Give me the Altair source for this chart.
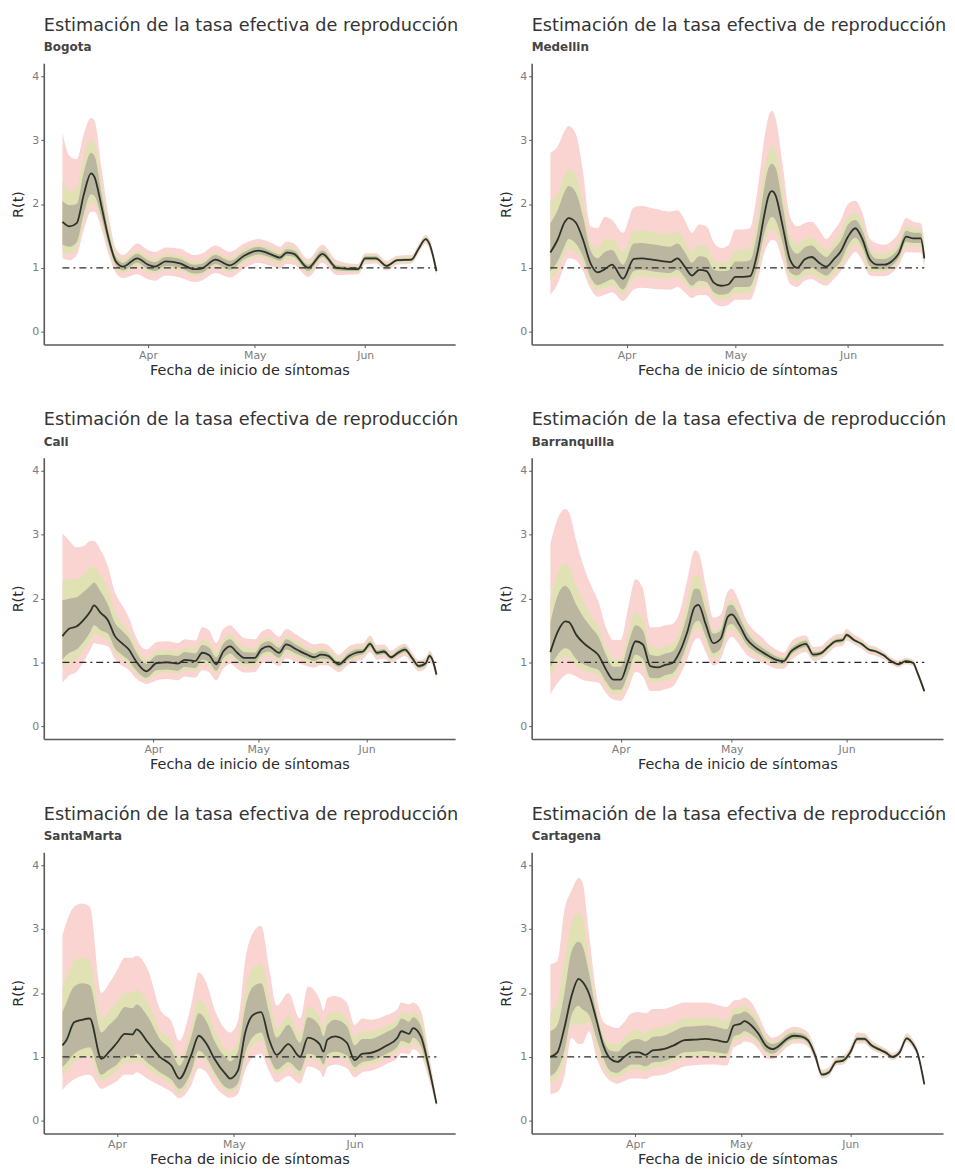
import altair as alt
import pandas as pd

TITLE = "Estimación de la tasa efectiva de reproducción"
X_TITLE = "Fecha de inicio de síntomas"
Y_TITLE = "R(t)"
YEAR = 2020
MONTH_TICKS = [(4, 1), (5, 1), (6, 1)]
Y_TICKS = [0, 1, 2, 3, 4]

# ---------------- Bogota ----------------
BOG_DATES = ["03-08","03-10","03-12","03-14","03-16","03-17","03-19","03-21","03-23","03-25","03-29","04-01","04-03","04-06","04-10","04-14","04-16","04-20","04-24","04-28","05-02","05-06","05-08","05-10","05-12","05-16","05-20","05-24","05-30","06-01","06-04","06-07","06-10","06-14","06-16","06-18","06-19","06-21"]
BOG_MED = [1.72,1.65,1.70,2.15,2.48,2.42,1.95,1.45,1.10,1.02,1.15,1.05,1.02,1.10,1.07,0.98,0.99,1.13,1.04,1.19,1.27,1.20,1.16,1.24,1.22,1.00,1.22,1.00,0.98,1.15,1.15,1.03,1.12,1.13,1.30,1.45,1.38,0.95]
BOG_LO95 = [1.15,1.12,1.20,1.60,1.88,1.88,1.60,1.20,0.92,0.84,0.90,0.82,0.80,0.88,0.85,0.78,0.80,0.92,0.85,0.99,1.08,1.02,0.99,1.06,1.05,0.86,1.08,0.89,0.90,1.06,1.07,0.96,1.05,1.07,1.23,1.38,1.30,0.88]
BOG_HI95 = [3.12,2.75,2.70,3.10,3.35,3.30,2.55,1.80,1.30,1.20,1.38,1.28,1.25,1.32,1.30,1.20,1.22,1.35,1.25,1.38,1.45,1.38,1.33,1.41,1.38,1.14,1.36,1.12,1.06,1.23,1.23,1.11,1.19,1.20,1.37,1.52,1.46,1.02]
BOG_LO75 = [1.25,1.22,1.30,1.75,2.02,2.00,1.70,1.30,1.00,0.92,1.03,0.93,0.91,0.98,0.96,0.87,0.88,1.02,0.93,1.08,1.17,1.10,1.06,1.14,1.12,0.92,1.14,0.94,0.93,1.10,1.10,0.99,1.08,1.09,1.26,1.41,1.34,0.91]
BOG_HI75 = [2.35,2.20,2.25,2.75,3.00,2.95,2.30,1.65,1.22,1.13,1.27,1.17,1.14,1.22,1.19,1.09,1.10,1.24,1.15,1.30,1.37,1.30,1.26,1.34,1.32,1.08,1.30,1.06,1.03,1.20,1.20,1.07,1.16,1.17,1.34,1.49,1.42,0.99]
BOG_LO50 = [1.36,1.33,1.40,1.85,2.15,2.12,1.78,1.35,1.04,0.96,1.08,0.98,0.95,1.03,1.00,0.91,0.92,1.06,0.97,1.13,1.21,1.15,1.11,1.19,1.17,0.95,1.17,0.96,0.95,1.12,1.12,1.01,1.10,1.11,1.28,1.43,1.36,0.93]
BOG_HI50 = [2.05,1.98,2.00,2.50,2.80,2.75,2.15,1.55,1.17,1.08,1.22,1.12,1.09,1.17,1.14,1.05,1.06,1.20,1.11,1.25,1.33,1.25,1.21,1.29,1.27,1.05,1.27,1.04,1.01,1.18,1.18,1.05,1.14,1.15,1.32,1.47,1.40,0.97]

# ---------------- Medellin ----------------
MED_DATES = ["03-11","03-13","03-15","03-16","03-18","03-20","03-22","03-24","03-26","03-28","03-31","04-03","04-05","04-09","04-13","04-15","04-17","04-19","04-21","04-23","04-25","04-27","04-29","05-01","05-03","05-05","05-07","05-09","05-10","05-11","05-12","05-14","05-16","05-18","05-20","05-22","05-24","05-26","05-28","05-30","06-01","06-03","06-05","06-07","06-09","06-11","06-13","06-15","06-17","06-19","06-21","06-22"]
MED_MED = [1.24,1.44,1.72,1.78,1.71,1.44,1.08,0.93,0.98,1.05,0.83,1.14,1.15,1.12,1.09,1.15,1.02,0.88,0.97,0.95,0.77,0.72,0.74,0.86,0.86,0.87,1.23,1.85,2.11,2.20,2.14,1.65,1.13,1.00,1.13,1.17,1.08,1.02,1.13,1.26,1.49,1.62,1.44,1.13,1.05,1.05,1.10,1.23,1.49,1.46,1.46,1.15]
MED_LO95 = [0.58,0.75,1.05,1.15,1.12,0.95,0.68,0.55,0.58,0.62,0.48,0.66,0.69,0.67,0.66,0.70,0.62,0.53,0.58,0.57,0.45,0.40,0.42,0.50,0.50,0.50,0.78,1.25,1.38,1.44,1.42,1.10,0.75,0.70,0.80,0.82,0.76,0.72,0.82,0.95,1.12,1.25,1.10,0.88,0.87,0.87,0.92,1.05,1.25,1.24,1.24,0.98]
MED_HI95 = [2.80,2.90,3.15,3.22,3.10,2.50,1.65,1.62,1.80,1.75,1.55,1.95,1.97,1.92,1.88,1.90,1.75,1.55,1.68,1.65,1.40,1.31,1.35,1.60,1.60,1.62,2.20,3.05,3.35,3.46,3.35,2.60,1.80,1.65,1.70,1.72,1.60,1.45,1.58,1.75,2.00,2.05,1.85,1.45,1.38,1.36,1.42,1.55,1.78,1.72,1.70,1.40]
MED_LO75 = [0.80,0.95,1.22,1.30,1.25,1.08,0.78,0.65,0.68,0.72,0.58,0.84,0.87,0.85,0.83,0.87,0.77,0.65,0.72,0.70,0.55,0.50,0.52,0.60,0.60,0.61,0.92,1.42,1.55,1.60,1.57,1.25,0.85,0.80,0.88,0.90,0.84,0.80,0.90,1.02,1.23,1.38,1.22,0.94,0.94,0.94,0.99,1.12,1.35,1.33,1.33,1.05]
MED_HI75 = [2.05,2.15,2.45,2.55,2.45,2.00,1.40,1.30,1.45,1.45,1.25,1.58,1.59,1.55,1.52,1.57,1.42,1.25,1.36,1.34,1.12,1.08,1.10,1.28,1.28,1.30,1.80,2.55,2.80,2.89,2.82,2.20,1.50,1.38,1.45,1.48,1.36,1.28,1.40,1.55,1.80,1.85,1.68,1.32,1.22,1.22,1.27,1.40,1.65,1.62,1.61,1.28]
MED_LO50 = [0.95,1.10,1.35,1.45,1.38,1.18,0.86,0.73,0.77,0.82,0.66,0.95,0.97,0.94,0.92,0.97,0.85,0.72,0.80,0.78,0.62,0.58,0.60,0.70,0.70,0.71,1.02,1.55,1.72,1.80,1.75,1.38,0.93,0.88,0.97,1.00,0.93,0.88,0.98,1.10,1.35,1.47,1.31,1.03,0.98,0.98,1.03,1.16,1.41,1.39,1.39,1.09]
MED_HI50 = [1.70,1.90,2.20,2.28,2.18,1.80,1.28,1.15,1.25,1.28,1.05,1.38,1.39,1.36,1.33,1.38,1.25,1.08,1.18,1.16,0.97,0.95,0.96,1.10,1.10,1.12,1.55,2.28,2.55,2.63,2.57,1.98,1.35,1.22,1.32,1.35,1.25,1.17,1.29,1.43,1.68,1.75,1.58,1.25,1.14,1.14,1.19,1.32,1.58,1.55,1.55,1.23]

# ---------------- Cali ----------------
CAL_DATES = ["03-06","03-08","03-10","03-12","03-14","03-15","03-17","03-19","03-21","03-23","03-25","03-27","03-29","03-30","04-02","04-05","04-08","04-10","04-13","04-15","04-17","04-19","04-21","04-23","04-25","04-27","04-30","05-02","05-04","05-07","05-09","05-12","05-15","05-17","05-19","05-21","05-24","05-27","05-29","05-31","06-02","06-04","06-06","06-08","06-10","06-12","06-14","06-16","06-18","06-19","06-20","06-21"]
CAL_MED = [1.41,1.53,1.56,1.66,1.80,1.89,1.77,1.66,1.41,1.30,1.20,1.02,0.89,0.86,0.99,1.00,0.98,1.04,1.02,1.15,1.11,0.97,1.17,1.25,1.15,1.07,1.07,1.21,1.25,1.15,1.28,1.20,1.12,1.08,1.12,1.10,0.97,1.10,1.15,1.17,1.29,1.15,1.17,1.08,1.15,1.20,1.07,0.94,0.99,1.10,1.02,0.81]
CAL_LO95 = [0.68,0.80,0.85,1.00,1.20,1.30,1.28,1.25,1.05,0.95,0.88,0.75,0.68,0.66,0.72,0.74,0.72,0.78,0.76,0.88,0.84,0.72,0.90,0.98,0.90,0.84,0.85,0.98,1.02,0.94,1.06,1.00,0.94,0.92,0.96,0.95,0.85,0.97,1.02,1.05,1.16,1.04,1.06,0.99,1.05,1.10,0.98,0.86,0.91,1.01,0.94,0.74]
CAL_HI95 = [3.02,2.90,2.80,2.82,2.90,2.90,2.75,2.50,2.10,1.90,1.70,1.40,1.22,1.20,1.32,1.33,1.30,1.36,1.34,1.55,1.50,1.30,1.52,1.58,1.48,1.38,1.36,1.48,1.52,1.40,1.52,1.43,1.33,1.28,1.30,1.27,1.12,1.25,1.29,1.30,1.42,1.27,1.28,1.18,1.25,1.29,1.16,1.03,1.08,1.18,1.10,0.88]
CAL_LO75 = [0.92,1.00,1.05,1.18,1.35,1.45,1.40,1.35,1.15,1.05,0.96,0.83,0.74,0.72,0.82,0.84,0.82,0.88,0.86,0.98,0.94,0.82,1.00,1.08,0.99,0.93,0.94,1.07,1.11,1.02,1.14,1.08,1.01,0.98,1.02,1.01,0.90,1.02,1.07,1.10,1.21,1.09,1.11,1.03,1.09,1.14,1.02,0.89,0.94,1.05,0.97,0.77]
CAL_HI75 = [2.28,2.30,2.30,2.38,2.48,2.50,2.35,2.15,1.80,1.62,1.48,1.25,1.08,1.05,1.18,1.19,1.17,1.23,1.21,1.35,1.31,1.15,1.36,1.44,1.33,1.24,1.22,1.35,1.39,1.28,1.41,1.33,1.24,1.19,1.22,1.20,1.06,1.19,1.23,1.25,1.37,1.22,1.23,1.13,1.21,1.26,1.12,0.99,1.04,1.15,1.07,0.85]
CAL_LO50 = [1.05,1.15,1.20,1.32,1.48,1.58,1.50,1.45,1.22,1.12,1.03,0.88,0.78,0.76,0.88,0.89,0.87,0.93,0.91,1.04,1.00,0.87,1.06,1.14,1.05,0.98,0.99,1.13,1.17,1.07,1.20,1.13,1.06,1.02,1.06,1.05,0.93,1.05,1.10,1.13,1.24,1.11,1.13,1.05,1.11,1.16,1.04,0.91,0.96,1.07,0.99,0.79]
CAL_HI50 = [1.97,2.00,2.02,2.10,2.20,2.25,2.10,1.90,1.62,1.50,1.38,1.17,1.01,0.98,1.11,1.12,1.10,1.16,1.14,1.27,1.23,1.08,1.29,1.36,1.25,1.16,1.15,1.29,1.33,1.23,1.36,1.27,1.18,1.14,1.18,1.15,1.01,1.15,1.20,1.21,1.33,1.19,1.21,1.11,1.19,1.24,1.10,0.97,1.02,1.13,1.05,0.83]

# ---------------- Barranquilla ----------------
BAR_DATES = ["03-13","03-15","03-17","03-18","03-20","03-22","03-24","03-26","03-28","03-30","04-01","04-03","04-05","04-07","04-09","04-11","04-13","04-15","04-17","04-19","04-21","04-22","04-24","04-26","04-28","04-30","05-01","05-03","05-05","05-07","05-09","05-11","05-13","05-15","05-17","05-19","05-21","05-23","05-25","05-27","05-29","05-31","06-01","06-03","06-05","06-07","06-09","06-11","06-13","06-15","06-17","06-19","06-20","06-22"]
BAR_MED = [1.16,1.48,1.64,1.63,1.43,1.30,1.21,1.11,0.89,0.73,0.73,1.02,1.33,1.28,0.94,0.92,0.96,0.99,1.17,1.48,1.87,1.90,1.59,1.30,1.37,1.72,1.75,1.59,1.37,1.25,1.17,1.10,1.04,1.02,1.17,1.25,1.29,1.12,1.14,1.24,1.33,1.35,1.43,1.35,1.29,1.20,1.17,1.11,1.02,0.97,1.02,0.99,0.86,0.55]
BAR_LO95 = [0.50,0.68,0.80,0.82,0.78,0.72,0.70,0.68,0.52,0.42,0.40,0.58,0.85,0.78,0.55,0.55,0.58,0.62,0.80,1.05,1.35,1.38,1.15,0.95,1.05,1.35,1.40,1.28,1.12,1.05,1.00,0.95,0.90,0.90,1.03,1.12,1.16,1.02,1.05,1.14,1.24,1.26,1.34,1.28,1.22,1.13,1.10,1.05,0.97,0.92,0.97,0.94,0.81,0.50]
BAR_HI95 = [2.85,3.25,3.40,3.35,2.90,2.50,2.20,1.95,1.55,1.35,1.35,1.85,2.30,2.15,1.55,1.55,1.58,1.60,1.80,2.30,2.75,2.72,2.20,1.70,1.75,2.12,2.15,1.95,1.65,1.50,1.40,1.28,1.20,1.15,1.32,1.40,1.42,1.24,1.25,1.35,1.43,1.45,1.52,1.43,1.37,1.27,1.24,1.17,1.08,1.03,1.07,1.04,0.91,0.60]
BAR_LO75 = [0.78,1.00,1.08,1.07,0.95,0.88,0.84,0.80,0.62,0.50,0.50,0.72,1.02,0.95,0.68,0.68,0.72,0.75,0.92,1.22,1.52,1.55,1.30,1.05,1.15,1.50,1.52,1.40,1.22,1.13,1.07,1.01,0.96,0.95,1.09,1.17,1.21,1.06,1.09,1.18,1.28,1.30,1.38,1.31,1.25,1.16,1.13,1.08,0.99,0.94,0.99,0.96,0.83,0.52]
BAR_HI75 = [2.00,2.40,2.55,2.50,2.20,1.95,1.72,1.55,1.22,1.05,1.05,1.45,1.78,1.68,1.25,1.22,1.26,1.30,1.50,1.95,2.35,2.35,1.95,1.50,1.58,1.95,1.98,1.80,1.55,1.38,1.28,1.20,1.12,1.09,1.25,1.33,1.37,1.18,1.19,1.30,1.38,1.40,1.48,1.39,1.33,1.24,1.21,1.14,1.05,1.00,1.05,1.02,0.89,0.58]
BAR_LO50 = [0.92,1.12,1.22,1.20,1.05,0.97,0.92,0.88,0.70,0.57,0.57,0.82,1.12,1.05,0.76,0.75,0.80,0.83,1.00,1.30,1.62,1.65,1.40,1.14,1.22,1.58,1.60,1.47,1.28,1.18,1.11,1.05,0.99,0.98,1.12,1.20,1.24,1.08,1.11,1.21,1.30,1.32,1.40,1.33,1.27,1.18,1.15,1.09,1.00,0.95,1.00,0.97,0.84,0.53]
BAR_HI50 = [1.62,2.05,2.20,2.15,1.90,1.70,1.55,1.40,1.12,0.93,0.93,1.28,1.58,1.50,1.12,1.10,1.14,1.17,1.37,1.75,2.15,2.15,1.80,1.45,1.50,1.88,1.90,1.72,1.48,1.33,1.24,1.16,1.09,1.06,1.22,1.30,1.34,1.16,1.17,1.27,1.36,1.38,1.46,1.37,1.31,1.22,1.19,1.13,1.04,0.99,1.04,1.01,0.88,0.57]

# ---------------- SantaMarta ----------------
SMA_DATES = ["03-18","03-19","03-21","03-23","03-25","03-28","03-30","04-01","04-03","04-05","04-06","04-09","04-12","04-15","04-17","04-20","04-22","04-24","04-26","04-29","04-30","05-02","05-04","05-06","05-08","05-10","05-12","05-15","05-18","05-20","05-23","05-24","05-25","05-27","05-30","06-01","06-03","06-05","06-07","06-09","06-12","06-13","06-15","06-16","06-18","06-20","06-22"]
SMA_MED = [1.18,1.26,1.54,1.58,1.60,0.97,1.08,1.22,1.36,1.35,1.43,1.22,1.00,0.86,0.66,1.02,1.33,1.20,0.97,0.72,0.66,0.78,1.40,1.66,1.70,1.28,1.03,1.20,1.00,1.30,1.20,1.08,1.27,1.32,1.22,0.95,1.05,1.06,1.10,1.17,1.30,1.40,1.36,1.45,1.32,0.85,0.27]
SMA_LO95 = [0.48,0.55,0.65,0.70,0.72,0.50,0.55,0.62,0.72,0.72,0.76,0.65,0.55,0.45,0.35,0.55,0.82,0.75,0.55,0.38,0.36,0.42,0.80,1.00,1.05,0.78,0.60,0.70,0.58,0.85,0.78,0.68,0.84,0.88,0.82,0.68,0.76,0.78,0.82,0.88,0.98,1.06,1.04,1.12,1.02,0.66,0.22]
SMA_HI95 = [2.90,3.10,3.35,3.40,3.35,2.00,2.15,2.35,2.55,2.55,2.58,2.35,1.75,1.55,1.25,1.80,2.32,2.15,1.75,1.42,1.38,1.55,2.55,2.95,3.05,2.40,1.80,2.00,1.60,2.10,1.90,1.72,1.92,1.95,1.85,1.50,1.60,1.58,1.60,1.65,1.75,1.85,1.82,1.85,1.72,1.08,0.33]
SMA_LO75 = [0.71,0.78,0.92,0.98,1.00,0.62,0.70,0.78,0.90,0.90,0.95,0.80,0.68,0.57,0.42,0.68,1.00,0.90,0.68,0.47,0.45,0.52,0.98,1.20,1.25,0.95,0.72,0.85,0.70,0.98,0.92,0.80,0.97,1.00,0.95,0.78,0.86,0.88,0.92,0.98,1.09,1.17,1.14,1.22,1.10,0.72,0.24]
SMA_HI75 = [2.10,2.25,2.50,2.55,2.50,1.60,1.72,1.85,2.00,2.00,2.05,1.85,1.42,1.25,0.98,1.45,1.90,1.75,1.42,1.12,1.08,1.25,2.05,2.40,2.45,1.95,1.45,1.65,1.35,1.78,1.62,1.45,1.65,1.70,1.60,1.30,1.40,1.40,1.43,1.48,1.60,1.70,1.65,1.70,1.58,0.98,0.31]
SMA_LO50 = [0.84,0.90,1.05,1.12,1.15,0.72,0.80,0.88,1.00,1.00,1.05,0.90,0.76,0.64,0.50,0.76,1.10,0.98,0.76,0.52,0.50,0.58,1.08,1.32,1.38,1.02,0.80,0.92,0.78,1.05,0.98,0.88,1.04,1.08,1.02,0.84,0.92,0.94,0.98,1.04,1.16,1.25,1.21,1.30,1.17,0.76,0.25]
SMA_HI50 = [1.70,1.85,2.10,2.15,2.12,1.38,1.50,1.62,1.78,1.76,1.82,1.62,1.28,1.10,0.86,1.30,1.68,1.55,1.25,0.98,0.93,1.08,1.80,2.10,2.15,1.70,1.30,1.50,1.22,1.62,1.48,1.32,1.50,1.58,1.48,1.18,1.28,1.28,1.32,1.38,1.50,1.60,1.55,1.62,1.48,0.94,0.29]

# ---------------- Cartagena ----------------
CTG_DATES = ["03-08","03-10","03-12","03-14","03-16","03-17","03-19","03-21","03-23","03-25","03-27","03-29","03-31","04-02","04-04","04-06","04-09","04-12","04-15","04-18","04-21","04-24","04-27","04-29","05-01","05-02","05-04","05-06","05-08","05-10","05-12","05-14","05-16","05-18","05-20","05-22","05-24","05-26","05-28","05-30","06-01","06-03","06-05","06-07","06-09","06-11","06-13","06-15","06-17","06-19","06-20","06-22"]
CTG_MED = [1.00,1.07,1.46,1.95,2.22,2.18,1.98,1.59,1.18,0.97,0.92,1.00,1.07,1.07,1.03,1.10,1.12,1.18,1.26,1.27,1.28,1.26,1.23,1.49,1.52,1.56,1.49,1.36,1.18,1.12,1.18,1.28,1.33,1.32,1.26,1.03,0.72,0.76,0.92,0.94,1.07,1.28,1.28,1.18,1.12,1.07,1.00,1.07,1.29,1.18,1.07,0.57]
CTG_LO95 = [0.42,0.45,0.70,1.30,1.20,1.20,1.40,1.00,0.75,0.62,0.58,0.62,0.66,0.66,0.65,0.70,0.72,0.78,0.85,0.87,0.88,0.88,0.86,1.15,1.20,1.24,1.22,1.12,0.98,0.96,1.04,1.15,1.21,1.21,1.16,0.95,0.66,0.70,0.86,0.88,1.01,1.21,1.21,1.12,1.06,1.02,0.95,1.02,1.23,1.12,1.02,0.54]
CTG_HI95 = [2.45,2.50,3.30,3.60,3.80,3.75,2.90,2.00,1.55,1.48,1.45,1.55,1.68,1.70,1.68,1.75,1.75,1.80,1.85,1.85,1.85,1.82,1.78,1.88,1.90,1.93,1.85,1.65,1.40,1.30,1.34,1.43,1.47,1.45,1.38,1.13,0.80,0.84,1.00,1.02,1.15,1.38,1.37,1.26,1.19,1.13,1.06,1.13,1.37,1.25,1.13,0.61]
CTG_LO75 = [0.60,0.68,0.95,1.50,1.50,1.50,1.55,1.15,0.88,0.70,0.68,0.74,0.80,0.80,0.77,0.83,0.85,0.92,0.99,1.00,1.01,1.00,0.98,1.25,1.29,1.33,1.30,1.20,1.05,1.02,1.09,1.20,1.25,1.25,1.20,0.98,0.68,0.72,0.88,0.90,1.03,1.24,1.24,1.14,1.08,1.04,0.97,1.04,1.25,1.14,1.04,0.55]
CTG_HI75 = [1.70,1.85,2.50,3.10,3.25,3.20,2.50,1.80,1.35,1.20,1.20,1.30,1.40,1.42,1.38,1.45,1.47,1.53,1.60,1.61,1.62,1.60,1.56,1.76,1.78,1.80,1.72,1.55,1.32,1.24,1.28,1.38,1.42,1.40,1.33,1.09,0.77,0.81,0.97,0.99,1.12,1.33,1.33,1.22,1.16,1.10,1.03,1.10,1.33,1.22,1.10,0.59]
CTG_LO50 = [0.70,0.80,1.10,1.65,1.80,1.75,1.65,1.30,0.98,0.78,0.75,0.82,0.88,0.88,0.85,0.91,0.93,0.99,1.07,1.08,1.09,1.07,1.05,1.32,1.36,1.40,1.35,1.25,1.09,1.05,1.12,1.23,1.28,1.28,1.22,1.00,0.70,0.74,0.90,0.92,1.04,1.25,1.25,1.15,1.10,1.05,0.98,1.05,1.27,1.16,1.05,0.56]
CTG_HI50 = [1.40,1.50,2.00,2.65,2.80,2.75,2.30,1.70,1.28,1.10,1.08,1.18,1.26,1.28,1.24,1.31,1.33,1.40,1.47,1.48,1.49,1.47,1.43,1.66,1.68,1.71,1.64,1.48,1.27,1.20,1.24,1.34,1.38,1.37,1.30,1.06,0.75,0.79,0.95,0.97,1.10,1.31,1.31,1.21,1.15,1.09,1.02,1.09,1.31,1.20,1.09,0.58]

PANELS = [
    ("Bogota", BOG_DATES, BOG_MED, BOG_LO95, BOG_HI95, BOG_LO75, BOG_HI75, BOG_LO50, BOG_HI50),
    ("Medellin", MED_DATES, MED_MED, MED_LO95, MED_HI95, MED_LO75, MED_HI75, MED_LO50, MED_HI50),
    ("Cali", CAL_DATES, CAL_MED, CAL_LO95, CAL_HI95, CAL_LO75, CAL_HI75, CAL_LO50, CAL_HI50),
    ("Barranquilla", BAR_DATES, BAR_MED, BAR_LO95, BAR_HI95, BAR_LO75, BAR_HI75, BAR_LO50, BAR_HI50),
    ("SantaMarta", SMA_DATES, SMA_MED, SMA_LO95, SMA_HI95, SMA_LO75, SMA_HI75, SMA_LO50, SMA_HI50),
    ("Cartagena", CTG_DATES, CTG_MED, CTG_LO95, CTG_HI95, CTG_LO75, CTG_HI75, CTG_LO50, CTG_HI50),
]

PINK = "#f9d4d0"
GREEN = "#e1e2b4"
GRAY = "#bab6a0"
LINE = "#2c3226"
FONT = "DejaVu Sans"
W, H = 414, 283


def to_dt(ts):
    return alt.DateTime(year=ts.year, month=ts.month, date=ts.day, hours=ts.hour, minutes=ts.minute)


def panel(city, dates, med, lo95, hi95, lo75, hi75, lo50, hi50):
    df = pd.DataFrame({
        "date": pd.to_datetime([f"{YEAR}-{d}" for d in dates]),
        "med": med, "lo95": lo95, "hi95": hi95,
        "lo75": lo75, "hi75": hi75, "lo50": lo50, "hi50": hi50,
    })
    start, end = df["date"].min(), df["date"].max()
    pad = (end - start) * 0.05
    xscale = alt.Scale(domain=[to_dt(start - pad), to_dt(end + pad)], nice=False)
    yscale = alt.Scale(domain=[-0.2, 4.2], nice=False, zero=False)
    xaxis = alt.Axis(values=[alt.DateTime(year=YEAR, month=m, date=d) for m, d in MONTH_TICKS],
                     format="%b", labelFlush=False)
    yaxis = alt.Axis(values=Y_TICKS)
    x = alt.X("date:T", scale=xscale, axis=xaxis, title=X_TITLE)
    base = alt.Chart(df)

    def band(lo, hi, color):
        return base.mark_area(color=color, interpolate="monotone", opacity=1).encode(
            x=x,
            y=alt.Y(f"{lo}:Q", scale=yscale, axis=yaxis, title=Y_TITLE),
            y2=f"{hi}:Q",
        )

    line = base.mark_line(color=LINE, strokeWidth=1.8, interpolate="monotone").encode(
        x=x, y=alt.Y("med:Q", scale=yscale, axis=yaxis, title=Y_TITLE)
    )
    rule_df = pd.DataFrame({"start": [start], "end": [end], "y": [1.0]})
    rule = alt.Chart(rule_df).mark_rule(color="#2a2a2a", strokeWidth=1.1, strokeDash=[7, 4, 2, 4]).encode(
        x=alt.X("start:T", scale=xscale, axis=xaxis, title=X_TITLE),
        x2="end:T",
        y=alt.Y("y:Q", scale=yscale, axis=yaxis, title=Y_TITLE),
    )
    return alt.layer(
        band("lo95", "hi95", PINK),
        band("lo75", "hi75", GREEN),
        band("lo50", "hi50", GRAY),
        rule,
        line,
    ).properties(
        width=W, height=H,
        title=alt.TitleParams(text=TITLE, subtitle=city, anchor="start", frame="group"),
    )


charts = [panel(*p) for p in PANELS]

chart = alt.concat(*charts, columns=2, bounds="flush", spacing={"row": 114, "column": 77}).properties(
    padding={"left": 3, "top": 5, "right": 0, "bottom": 0}
).configure_view(stroke=None).configure_axis(
    grid=False,
    domainColor="#5a5a5a",
    domainWidth=1.6,
    tickColor="#5a5a5a",
    tickSize=3,
    tickWidth=1,
    labelColor="#7d7d7d",
    labelFont=FONT,
    labelFontSize=11,
    labelPadding=2,
    titleFont=FONT,
    titleFontSize=14.5,
    titleColor="#2a2a2a",
    titleFontWeight="normal",
).configure_axisY(titlePadding=6).configure_axisX(titlePadding=3).configure_title(
    font=FONT,
    fontSize=17.8,
    fontWeight="normal",
    color="#333333",
    subtitleFont=FONT,
    subtitleFontSize=12,
    subtitleFontWeight="bold",
    subtitleColor="#444444",
    subtitlePadding=8,
    offset=10,
)

chart.save("out.html", embed_options={"renderer": "svg", "actions": False})
